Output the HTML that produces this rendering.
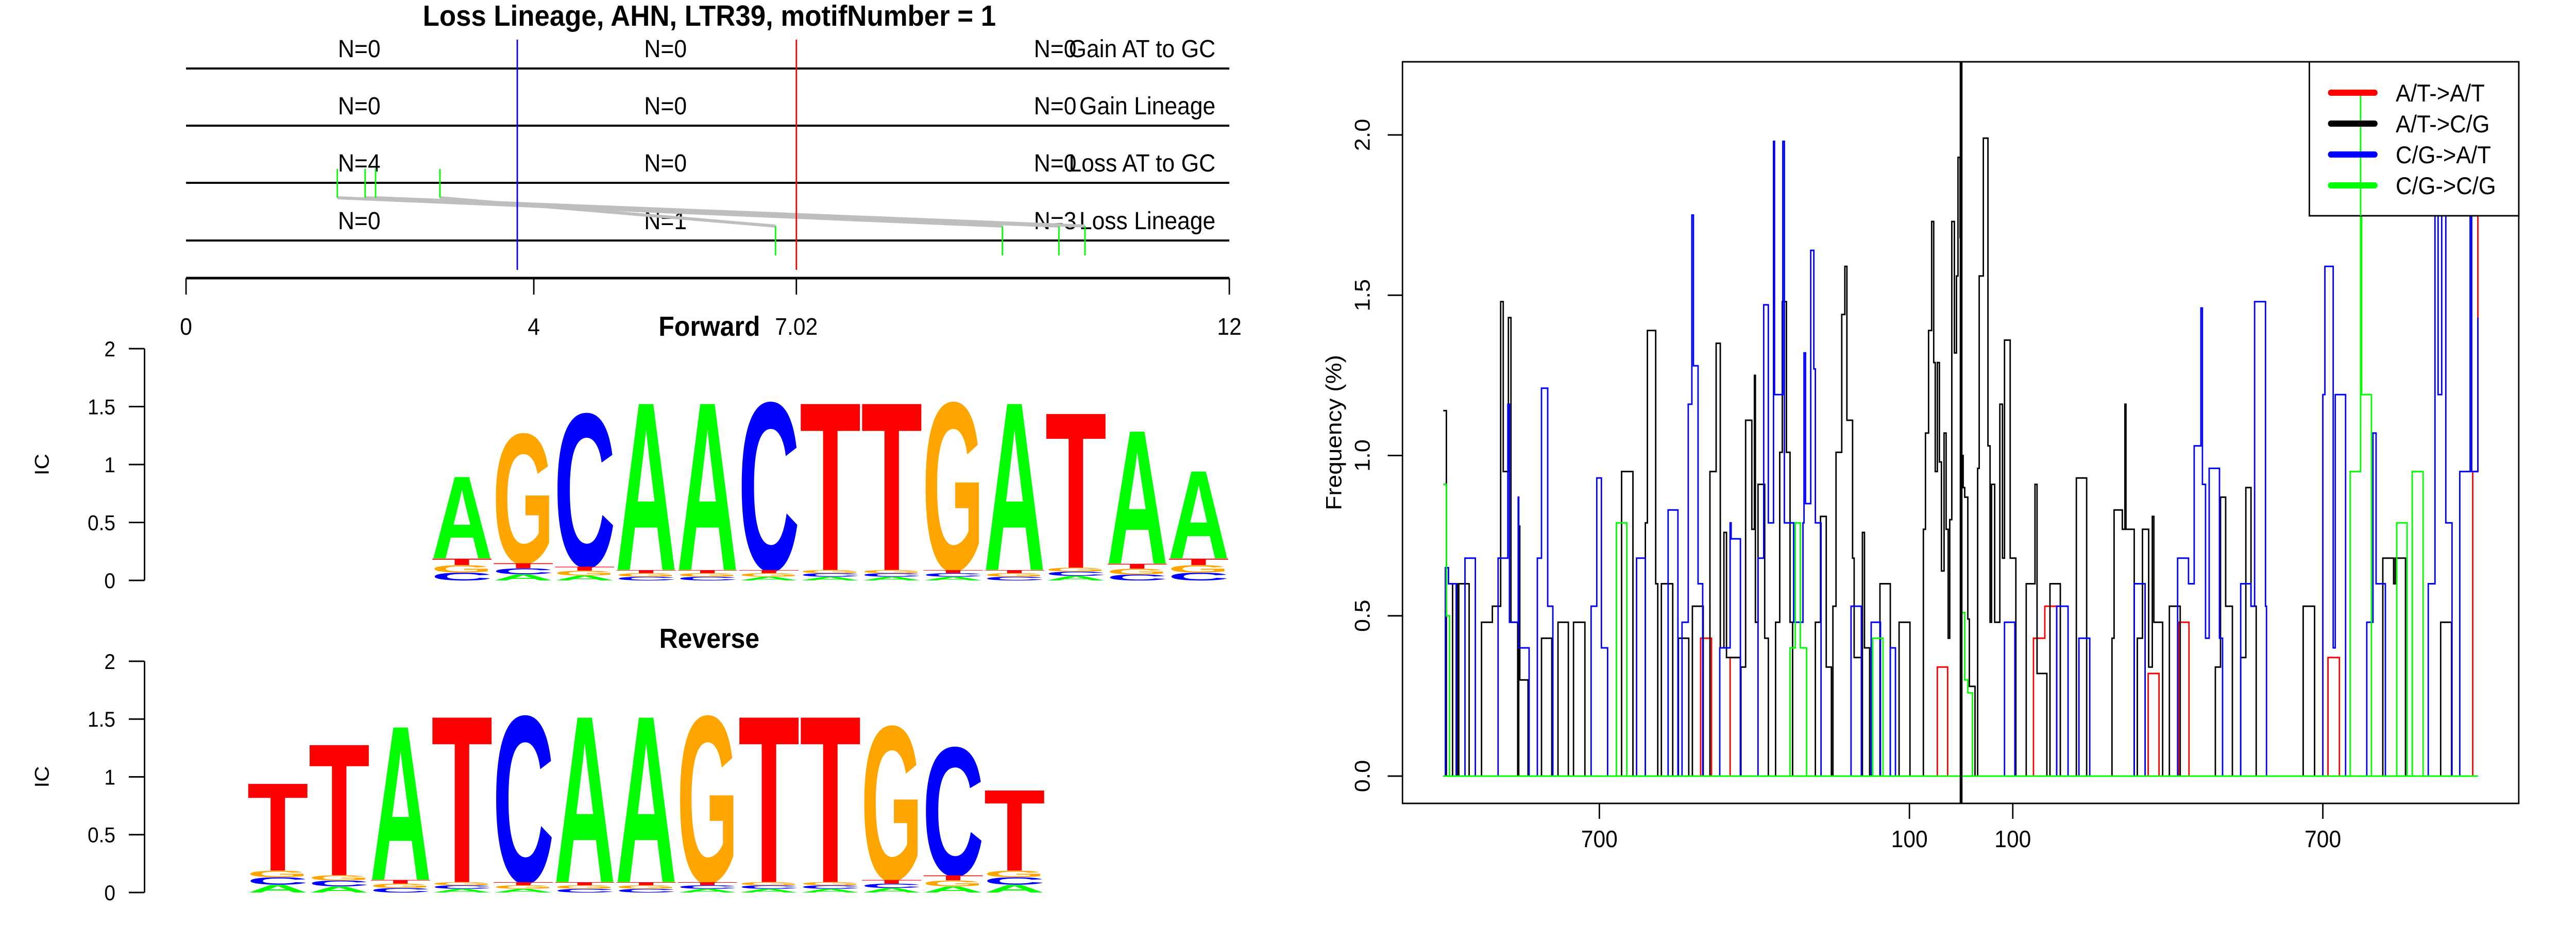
<!DOCTYPE html>
<html><head><meta charset="utf-8"><style>
html,body{margin:0;padding:0;background:#fff;width:100%;height:100%;overflow:hidden;}
svg{display:block;position:absolute;left:0;top:0;width:100vw;height:100vh;}
text{font-family:"Liberation Sans",sans-serif;}
</style></head><body>
<svg id="fig" viewBox="0 0 5400 1800" preserveAspectRatio="none" xmlns="http://www.w3.org/2000/svg">
<rect width="5400" height="1800" fill="#fff"/>
<g id="left"></g>
<g id="right"></g>
</svg>
<script>
// ---------- Left panel data ----------
const trackNames = ["Gain AT to GC","Gain Lineage","Loss AT to GC","Loss Lineage"];
const trackCounts = [[0,0,0],[0,0,0],[4,0,0],[0,1,3]];
const axisTicks = [0,4,7.02,12];
const blueMark = 3.81;
const redMark = 7.02;
const topSites = [1.74,2.06,2.18,2.92];
const bottomSites = [9.39,10.04,10.34,6.78];
const fwdSeq = ["A","G","C","A","A","C","T","T","G","A","T","A","A"];
const fwdTop = [0.92,1.30,1.48,1.58,1.58,1.58,1.58,1.58,1.58,1.58,1.49,1.33,0.97];
const fwdBase = [0.19,0.15,0.12,0.09,0.09,0.09,0.09,0.09,0.09,0.09,0.11,0.145,0.19];
const fwdSmall = ["CGT","ACT","AGT","CGT","CGT","AGT","ACG","ACG","ACT","CGT","ACG","CGT","CGT"];
const revSeq = ["T","T","A","T","C","A","A","G","T","T","G","C","T"];
const revTop = [0.97,1.32,1.48,1.57,1.57,1.57,1.57,1.57,1.57,1.57,1.48,1.29,0.91];
const revBase = [0.19,0.15,0.11,0.09,0.09,0.09,0.09,0.09,0.09,0.09,0.11,0.15,0.19];
const revSmall = ["ACG","ACG","CGT","ACG","AGT","CGT","CGT","ACT","ACG","ACG","ACT","AGT","ACG"];
const icTicks = [0,0.5,1,1.5,2];
const icLabels = ["0","0.5","1","1.5","2"];

// ---------- Right chart data ----------
const seriesNames = ["A/T->A/T","A/T->C/G","C/G->A/T","C/G->C/G"];
const redX = [-1002,-504,-483,-447,-427,-46,-26,140,162,185,362,383,421,441,710,732,990,1000];
const redV = [0,0.43,0,0.37,0,0.34,0,0.43,0.53,0,0.32,0,0.48,0,0.37,0,0.95,1.81];
const blackX = [-1002,-996,-984,-975,-972,-952,-928,-907,-891,-886,-876,-871,-858,-856,-854,-838,-812,-792,-780,-760,-750,-728,-657,-635,-611,-607,-591,-587,-580,-558,-547,-527,-520,-499,-486,-474,-466,-459,-454,-427,-426,-417,-405,-400,-398,-393,-380,-373,-359,-351,-346,-338,-331,-326,-282,-272,-261,-251,-248,-242,-231,-225,-221,-210,-207,-193,-191,-187,-177,-157,-137,-120,-99,-73,-69,-63,-57,-53,-50,-46,-42,-38,-33,-29,-25,-22,-18,-13,-9,-6,-2,0,4,7,13,16,27,32,35,43,52,56,59,65,75,80,84,95,106,126,143,147,166,172,192,223,243,292,296,312,317,319,335,341,351,363,370,373,390,403,424,492,502,512,525,541,551,561,571,662,684,816,837,840,860,928,949,1000];
const blackV = [1.14,0,0.60,0,0.60,0,0.48,0.53,1.48,0.95,1.43,0.48,0,0.78,0.30,0,0.43,0,0.48,0,0.48,0,0.95,0,0.79,1.39,0.60,0,0.60,0,0.43,0,0.53,0,0.95,1.35,0.40,0.76,0.37,0,0.34,1.11,0.77,1.25,0.48,0.91,0.43,0,0.48,1.01,1.48,1.01,0.48,0,0.48,0.81,0.34,0,0.53,1.01,1.44,1.59,1.11,0.68,0.37,0,0.76,0.40,0,0.60,0,0.48,0,0.77,1.07,1.39,1.73,1.29,0.95,1.29,0.98,0.64,1.07,0.77,0.43,0.80,1.73,1.32,1.56,1.93,1.68,1.0,0.9,0.87,0.49,0.28,0,0.96,1.56,1.99,1.03,0.48,0.91,0.48,1.16,0.68,1.36,0.68,0,0.60,0.91,0.32,0,0.60,0,0.93,0,0.43,0.83,0.77,1.16,0.77,0,0.43,0.77,0.34,0.81,0.48,0,0.53,0,0.34,0.87,0.53,0,0.37,0.90,0.53,0,0.53,0,0.68,0.60,0.68,0,0.48,0,0];
const blueX = [-1002,-998,-992,-977,-960,-940,-896,-877,-874,-857,-856,-836,-820,-812,-800,-790,-716,-705,-696,-684,-628,-611,-567,-548,-540,-528,-521,-518,-509,-500,-467,-447,-445,-427,-393,-382,-373,-363,-361,-345,-342,-324,-306,-304,-301,-291,-285,-282,-271,-213,-193,-174,-156,-137,-127,84,104,185,207,228,249,335,356,419,440,451,464,467,473,480,500,506,541,561,568,589,591,700,704,720,724,744,785,797,803,821,904,917,923,930,938,950,965,985,988,1000];
const blueV = [0,0.65,0.60,0,0.68,0,0.68,1.16,0.48,0.87,0.40,0,0.68,1.21,0.53,0,0.53,0.93,0.40,0,0.68,0,0.83,0,0.48,1.16,1.75,1.28,0.60,0,0.40,0.79,0.74,0,0.68,1.47,0.79,1.98,1.19,1.98,0.79,0.48,0.79,1.32,0.85,1.64,1.27,0.79,0,0.53,0,0.48,0,0.40,0,0.48,0,0.53,0,0.43,0,0.60,0,0.68,0.60,1.03,1.46,0.91,0.43,0.96,0.43,0,0.60,0.53,1.48,0.53,0,1.19,1.59,0.40,1.19,0,0.48,1.07,0.60,0,0.60,1.79,1.19,1.98,0.79,0,0.95,1.90,0.95,1.43];
const greenX = [-1002,-996,-990,-667,-647,-331,-321,-311,-299,-171,-151,0,7,13,22,753,773,775,794,843,863,873,894,1000];
const greenV = [0.91,0.5,0,0.79,0,0.40,0.79,0.40,0,0.43,0,0.51,0.30,0.26,0,0.95,2.14,1.19,0,0.79,0,0.95,0,0];
const xTickVals = [-700,-100,100,700];
const xTickLabels = ["700","100","100","700"];
const yTickVals = [0,0.5,1,1.5,2];
const yTickLabels = ["0.0","0.5","1.0","1.5","2.0"];

const NS = "http://www.w3.org/2000/svg";
function mk(parent, tag, attrs, txt) {
  const e = document.createElementNS(NS, tag);
  for (const k in attrs) e.setAttribute(k, attrs[k]);
  if (txt !== undefined) e.textContent = txt;
  parent.appendChild(e);
  return e;
}
const L = document.getElementById("left");
const R = document.getElementById("right");

// ===== Left: tracks =====
const tx = v => 390 + v * 182.25;
const trackY = [133, 244, 355, 467];
let t = mk(L, "text", {x:1487, y:50, "font-size":57, "font-weight":"bold", "text-anchor":"middle"}, "Loss Lineage, AHN, LTR39, motifNumber = 1");


trackY.forEach((y, i) => {
  let ln = mk(L, "line", {x1:390, x2:2577, y1:y, y2:y, stroke:"#000", "stroke-width":4});
  
  
  [753, 1395, 2212].forEach((x, j) => {
    let n = mk(L, "text", {x:x, y:y - 22, "font-size":48, "text-anchor":"middle"}, "N=" + trackCounts[i][j]);
    
    
  });
  let nm = mk(L, "text", {x:2548, y:y - 22, "font-size":48, "text-anchor":"end"}, trackNames[i]);
  
  
});
topSites.forEach((s, i) => {
  let g = mk(L, "line", {x1:tx(s), y1:384, x2:tx(bottomSites[i]), y2:439, stroke:"#bebebe", "stroke-width":6});
  
  
  let a = mk(L, "line", {x1:tx(s), y1:328, x2:tx(s), y2:384, stroke:"#00ff00", "stroke-width":3});
  
  
  let b = mk(L, "line", {x1:tx(bottomSites[i]), y1:439, x2:tx(bottomSites[i]), y2:496, stroke:"#00ff00", "stroke-width":3});
  
  
});
let bl = mk(L, "line", {x1:tx(blueMark), x2:tx(blueMark), y1:77, y2:524, stroke:"#0000ff", "stroke-width":3});


let rl = mk(L, "line", {x1:tx(redMark), x2:tx(redMark), y1:77, y2:524, stroke:"#ff0000", "stroke-width":3});


let ax = mk(L, "line", {x1:390, x2:2577, y1:540, y2:540, stroke:"#000", "stroke-width":5});


axisTicks.forEach(v => {
  let tk = mk(L, "line", {x1:tx(v), x2:tx(v), y1:540, y2:572, stroke:"#000", "stroke-width":3});
  
  
  let tl = mk(L, "text", {x:tx(v), y:650, "font-size":46, "text-anchor":"middle"}, String(v));
  
  
});

// ===== Logos =====
const colors = {A:"#00ff00", C:"#0000ff", G:"#ffa500", T:"#ff0000"};
function letter(g, ch, x, w, yTop, yBot) {
  const h = yBot - yTop;
  if (h <= 0.5) return;
  let e = mk(g, "text", {x:x, y:yBot, "font-size":(h/0.716).toFixed(2), "font-weight":"bold", fill:colors[ch], textLength:w, lengthAdjust:"spacingAndGlyphs"}, ch);
  
  
}
function logo(name, title, titleY, y0, y2, x0, seq, top, base, small) {
  const g = mk(L, "g", {});
  
  
  const sy = v => y0 - v * (y0 - y2) / 2;
  const cw = 128.7;
  let tt = mk(g, "text", {x:1487, y:titleY, "font-size":54, "font-weight":"bold", "text-anchor":"middle"}, title);
  
  
  let a = mk(g, "line", {x1:303, x2:303, y1:sy(0), y2:sy(2), stroke:"#000", "stroke-width":3});
  
  
  icTicks.forEach((v, i) => {
    let tk = mk(g, "line", {x1:270, x2:303, y1:sy(v), y2:sy(v), stroke:"#000", "stroke-width":3});
    
    
    let tl = mk(g, "text", {x:242, y:sy(v) + 15, "font-size":42, "text-anchor":"end"}, icLabels[i]);
    
    
  });
  let ic = mk(g, "text", {x:0, y:0, "font-size":42, "text-anchor":"middle", transform:`translate(102,${sy(1)}) rotate(-90)`}, "IC");
  
  
  seq.forEach((ch, i) => {
    const x = x0 + i * cw;
    letter(g, ch, x, cw, sy(top[i]), sy(base[i]));
    const fr = [0.36, 0.34, 0.30];
    let acc = 0;
    for (let k = 0; k < 3; k++) {
      const b = sy(acc * base[i]);
      acc += fr[k];
      const tp = sy(acc * base[i]);
      letter(g, small[i][k], x, cw, tp, b);
    }
  });
}
logo("forward-logo", "Forward", 652, 1127, 677, 904, fwdSeq, fwdTop, fwdBase, fwdSmall);
logo("reverse-logo", "Reverse", 1258, 1733, 1284, 518, revSeq, revTop, revBase, revSmall);

// ===== Right chart =====
const PL = 2940, PR = 5280, PT = 120, PB = 1560;
const sx = u => 4111 + u * 1.0833;
const sy = v => 1507 - v * 622.5;
let box = mk(R, "rect", {x:PL, y:PT, width:PR - PL, height:PB - PT, fill:"none", stroke:"#000", "stroke-width":3});


function stepPath(X, V) {
  let d = `M${sx(X[0]).toFixed(1)},${sy(V[0]).toFixed(1)}`;
  for (let i = 1; i < X.length; i++) d += `H${sx(X[i]).toFixed(1)}V${sy(V[i]).toFixed(1)}`;
  return d;
}
const series = [[redX, redV, "#ff0000", "series-at-to-at"], [blackX, blackV, "#000000", "series-at-to-cg"], [blueX, blueV, "#0000ff", "series-cg-to-at"], [greenX, greenV, "#00ff00", "series-cg-to-cg"]];
series.forEach(s => {
  let base = mk(R, "line", {x1:sx(-1002), x2:sx(1000), y1:sy(0), y2:sy(0), stroke:s[2], "stroke-width":3});
  
  
  let p = mk(R, "path", {d:stepPath(s[0], s[1]), fill:"none", stroke:s[2], "stroke-width":3});
  
  
});
let dv = mk(R, "line", {x1:sx(0), x2:sx(0), y1:PT, y2:PB, stroke:"#000", "stroke-width":6});


yTickVals.forEach((v, i) => {
  let tk = mk(R, "line", {x1:PL - 31, x2:PL, y1:sy(v), y2:sy(v), stroke:"#000", "stroke-width":3});
  
  
  let tl = mk(R, "text", {x:0, y:0, "font-size":45, "text-anchor":"middle", transform:`translate(2871,${sy(v)}) rotate(-90)`}, yTickLabels[i]);
  
  
});
xTickVals.forEach((v, i) => {
  let tk = mk(R, "line", {x1:sx(v), x2:sx(v), y1:PB, y2:PB + 30, stroke:"#000", "stroke-width":3});
  
  
  let tl = mk(R, "text", {x:sx(v), y:1645, "font-size":46, "text-anchor":"middle"}, xTickLabels[i]);
  
  
});
let yt = mk(R, "text", {x:0, y:0, "font-size":46, "text-anchor":"middle", transform:`translate(2812,840) rotate(-90)`}, "Frequency (%)");


// legend
const lg = mk(R, "g", {});


let lb = mk(lg, "rect", {x:4841, y:PT, width:PR - 4841, height:299, fill:"#fff", stroke:"#000", "stroke-width":3});


let gs = mk(lg, "line", {x1:sx(773), x2:sx(773), y1:sy(2.14), y2:PT + 299, stroke:"#00ff00", "stroke-width":3});


series.forEach((s, i) => {
  const y = 180 + i * 60;
  let ln = mk(lg, "line", {x1:4886, x2:4978, y1:y, y2:y, stroke:s[2], "stroke-width":12, "stroke-linecap":"round"});
  
  
  let tl = mk(lg, "text", {x:5022, y:y + 17, "font-size":47}, seriesNames[i]);
  
  
});
</script>
</body></html>
